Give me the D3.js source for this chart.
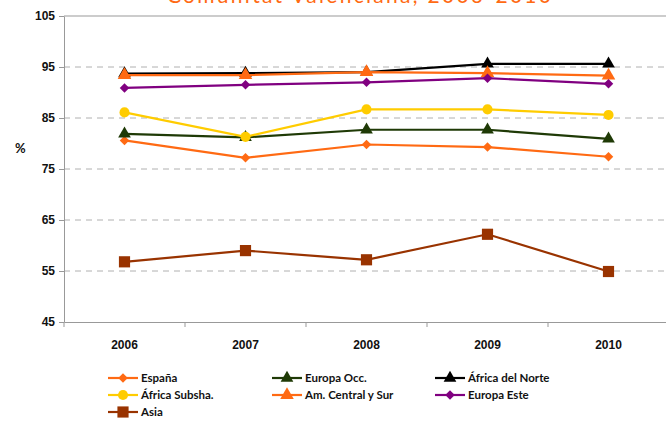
<!DOCTYPE html>
<html>
<head>
<meta charset="utf-8">
<script src="https://cdn.jsdelivr.net/npm/d3@7"></script>
<style>
  body { margin: 0; background: #fff; }
  svg { display: block; font-family: "Lato", "Noto Sans", sans-serif; }
</style>
</head>
<body>
<svg id="chart" width="666" height="421"></svg>
<script>
// data
var years = ["2006", "2007", "2008", "2009", "2010"];
var yTicks = [45, 55, 65, 75, 85, 95, 105];

var espana     = [80.6, 77.2, 79.8, 79.3, 77.4];
var europaOcc  = [81.9, 81.2, 82.7, 82.7, 80.9];
var africaN    = [93.7, 93.8, 94.0, 95.6, 95.6];
var africaS    = [86.1, 81.3, 86.7, 86.7, 85.6];
var amCentral  = [93.4, 93.4, 94.0, 93.8, 93.3];
var europaEste = [90.9, 91.5, 92.0, 92.8, 91.7];
var asia       = [56.8, 59.0, 57.2, 62.2, 54.9];

// diamonds are drawn as squares turned 45 degrees
var series = [
  {name: "España", values: espana, color: "#FF6A13", symbol: d3.symbolSquare, size: 45, rot: 45},
  {name: "Europa Occ.", values: europaOcc, color: "#1F3A06", symbol: d3.symbolTriangle, size: 70, rot: 0},
  {name: "África del Norte", values: africaN, color: "#000000", symbol: d3.symbolTriangle, size: 70, rot: 0},
  {name: "África Subsha.", values: africaS, color: "#FFCC00", symbol: d3.symbolCircle, size: 80, rot: 0},
  {name: "Am. Central y Sur", values: amCentral, color: "#FF6A13", symbol: d3.symbolTriangle, size: 80, rot: 0},
  {name: "Europa Este", values: europaEste, color: "#800080", symbol: d3.symbolSquare, size: 45, rot: 45},
  {name: "Asia", values: asia, color: "#993300", symbol: d3.symbolSquare, size: 125, rot: 0}
];

var margin = {top: 16, right: -3, bottom: 99, left: 64};
var width = 666 - margin.left - margin.right;
var height = 421 - margin.top - margin.bottom;

var svg = d3.select("#chart");

// title, cut off at the top edge as in the source
svg.append("text")
    .attr("x", 359)
    .attr("y", 3)
    .attr("text-anchor", "middle")
    .attr("fill", "#FF6A13")
    .attr("font-size", 21)
    .attr("textLength", 384)
    .text("Comunitat Valenciana, 2006-2010");

var g = svg.append("g")
    .attr("transform", "translate(" + margin.left + "," + margin.top + ")");

var x = d3.scaleBand()
    .domain(years)
    .range([0, width]);

var y = d3.scaleLinear()
    .domain([45, 105])
    .range([height, 0]);

// grid lines
g.append("g")
  .selectAll("line")
  .data(yTicks.slice(1, -1))
  .enter().append("line")
    .attr("x1", 0)
    .attr("x2", width)
    .attr("y1", function(d) { return y(d); })
    .attr("y2", function(d) { return y(d); })
    .attr("stroke", "#b0b0b0")
    .attr("stroke-dasharray", "6,5");

// top border
g.append("line")
    .attr("x1", 0).attr("x2", width)
    .attr("y1", y(105)).attr("y2", y(105))
    .attr("stroke", "#999");

var yAxis = g.append("g")
    .call(d3.axisLeft(y).tickValues(yTicks).tickSizeInner(5).tickSizeOuter(0).tickPadding(4));
yAxis.select(".domain").attr("stroke", "#999");
yAxis.selectAll(".tick line").attr("stroke", "#999");
yAxis.selectAll(".tick text")
    .attr("font-size", 12)
    .attr("font-weight", "bold")
    .attr("fill", "#111");

var xAxis = g.append("g")
    .attr("transform", "translate(0," + height + ")")
    .call(d3.axisBottom(x).tickSize(0).tickPadding(18));
xAxis.select(".domain").attr("stroke", "#999");
xAxis.selectAll(".tick text")
    .attr("font-size", 12)
    .attr("font-weight", "bold")
    .attr("fill", "#111");

// ticks between categories
xAxis.selectAll(".sep")
  .data(years)
  .enter().append("line")
    .attr("class", "sep")
    .attr("x1", function(d) { return x(d); })
    .attr("x2", function(d) { return x(d); })
    .attr("y1", 0)
    .attr("y2", 5)
    .attr("stroke", "#999");

svg.append("text")
    .attr("x", 15)
    .attr("y", 153)
    .attr("font-size", 13)
    .attr("font-weight", "bold")
    .attr("fill", "#111")
    .text("%");

var line = d3.line()
    .x(function(d, i) { return x(years[i]) + x.bandwidth() / 2; })
    .y(function(d) { return y(d); });

var lines = g.append("g")
  .selectAll("g")
  .data(series)
  .enter().append("g");

lines.append("path")
    .attr("fill", "none")
    .attr("stroke", function(d) { return d.color; })
    .attr("stroke-width", 2.2)
    .attr("d", function(d) { return line(d.values); });

lines.selectAll(".pt")
  .data(function(d) { return d.values.map(function(v, i) { return {v: v, i: i, s: d}; }); })
  .enter().append("path")
    .attr("class", "pt")
    .attr("transform", function(d) {
      return "translate(" + (x(years[d.i]) + x.bandwidth() / 2) + "," + y(d.v) + ") rotate(" + d.s.rot + ")";
    })
    .attr("d", function(d) { return d3.symbol().type(d.s.symbol).size(d.s.size)(); })
    .attr("fill", function(d) { return d.s.color; });

// legend
var legendCols = [108, 272, 435];
var legendRows = [378, 395, 412];

var legend = svg.append("g")
  .selectAll("g")
  .data(series)
  .enter().append("g")
    .attr("transform", function(d, i) {
      return "translate(" + legendCols[i % 3] + "," + legendRows[Math.floor(i / 3)] + ")";
    });

legend.append("line")
    .attr("x1", 0).attr("x2", 30)
    .attr("stroke", function(d) { return d.color; })
    .attr("stroke-width", 2.2);

legend.append("path")
    .attr("transform", function(d) { return "translate(15,0) rotate(" + d.rot + ")"; })
    .attr("d", function(d) { return d3.symbol().type(d.symbol).size(d.size)(); })
    .attr("fill", function(d) { return d.color; });

legend.append("text")
    .attr("x", 33)
    .attr("dy", "0.35em")
    .attr("font-size", 11.5)
    .attr("font-weight", "bold")
    .attr("fill", "#111")
    .text(function(d) { return d.name; });
</script>
</body>
</html>
